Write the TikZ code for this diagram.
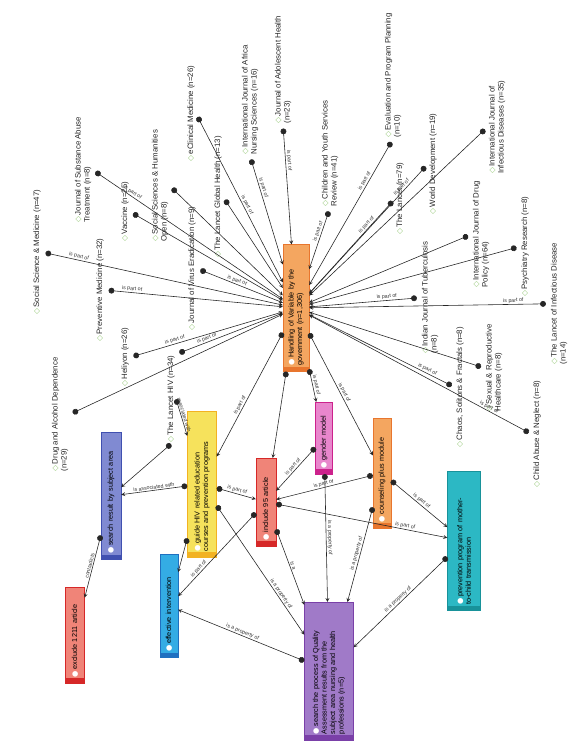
\documentclass[tikz,border=0pt]{standalone}
\usepackage{fontspec}
\setmainfont{Liberation Sans}
\newfontfamily\symfont{DejaVu Sans}
\usetikzlibrary{arrows, calc}

\definecolor{diagreen}{RGB}{150,200,120}
\definecolor{hvorange}{RGB}{244,166,96}
\definecolor{hvdark}{RGB}{232,118,46}
\definecolor{gmpink}{RGB}{232,134,204}
\definecolor{gmdark}{RGB}{204,34,140}
\definecolor{incred}{RGB}{240,132,120}
\definecolor{incdark}{RGB}{214,40,40}
\definecolor{guiyellow}{RGB}{246,226,92}
\definecolor{guidark}{RGB}{242,178,34}
\definecolor{srsblue}{RGB}{128,138,210}
\definecolor{srsdark}{RGB}{64,80,176}
\definecolor{effblue}{RGB}{52,172,228}
\definecolor{effdark}{RGB}{32,112,192}
\definecolor{sqapurple}{RGB}{160,122,200}
\definecolor{sqadark}{RGB}{122,64,168}
\definecolor{pmtteal}{RGB}{44,184,196}
\definecolor{pmtdark}{RGB}{24,146,154}

\newcommand\jd{{\symfont\textcolor{diagreen}{◇}}\,}
\newcommand\bd{{\symfont\textcolor{white}{●}}\,}

\begin{document}
\begin{tikzpicture}[>=stealth, x=0.03cm, y=-0.03cm]
	\tikzstyle{journal} = [rotate=90, anchor=west, inner sep=1pt, align=left, text=black!85, font=\fontsize{6.7}{7.7}\selectfont]
	\tikzstyle{box} = [rotate=90, draw, line width=0.3pt, inner xsep=5pt, inner ysep=1.5pt, align=left, font=\fontsize{6.2}{7.2}\selectfont]
	\tikzstyle{rel} = [*->, line width=0.5pt, black!85]
	\tikzstyle{lbl} = [sloped, above, inner sep=0.8pt, text=black!80, font=\fontsize{4.5}{5}\selectfont]

	\useasboundingbox (0,0) rectangle (582,752);

	% concept boxes
	\node[box, fill=hvorange, draw=hvdark, text width=3.45cm, minimum height=0.78cm] (hv) at (296,308) {\bd Handling of Variable by the\\government (n=1,306)};
	\node[box, fill=gmpink, draw=gmdark, text width=1.8cm, minimum height=0.51cm] (gm) at (324,438) {\bd gender model};
	\node[box, fill=hvorange, draw=hvdark, text width=2.94cm, minimum height=0.54cm] (cpm) at (382,473) {\bd counseling plus module};
	\node[box, fill=incred, draw=incdark, text width=2.28cm, minimum height=0.6cm] (inc) at (266,502) {\bd include 95 article};
	\node[box, fill=guiyellow, draw=guidark, text width=4.02cm, minimum height=0.87cm] (gui) at (202,484) {\bd guide HIV related education\\courses and prevention programs};
	\node[box, fill=srsblue, draw=srsdark, text width=3.45cm, minimum height=0.6cm] (srs) at (111,496) {\bd search result by subject area};
	\node[box, fill=effblue, draw=effdark, text width=2.73cm, minimum height=0.54cm] (eff) at (169,606) {\bd effective intervention};
	\node[box, fill=incred, draw=incdark, text width=2.52cm, minimum height=0.57cm] (exc) at (75,635) {\bd exclude 1211 article};
	\node[box, fill=sqapurple, draw=sqadark, text width=3.78cm, minimum height=1.47cm] (sqa) at (329,671) {\bd search the process of Quality\\Assessment results from the\\subject area nursing and health\\professions (n=5)};
	\node[box, fill=pmtteal, draw=pmtdark, text width=3.81cm, minimum height=0.99cm] (pmt) at (464,541) {\bd prevention program of mother-\\to-child transmission};

	\foreach \n/\c in {hv/hvdark, gm/gmdark, cpm/hvdark, inc/incdark, gui/guidark, srs/srsdark, eff/effdark, exc/incdark, sqa/sqadark, pmt/pmtdark}
		\fill[\c] (\n.south west) rectangle ($(\n.north west)+(0,-5)$);

	% journals
	\node[journal] (soc) at (37,316) {\jd Social Science \& Medicine (n=47)};
	\node[journal] (jsat) at (83,224) {\jd Journal of Substance Abuse\\Treatment (n=8)};
	\node[journal] (prev) at (100,343) {\jd Preventive Medicine (n=32)};
	\node[journal] (vacc) at (125,243) {\jd Vaccine (n=25)};
	\node[journal] (ssho) at (160,243) {\jd Social Sciences \& Humanities\\Open (n=8)};
	\node[journal] (jve) at (192,332) {\jd Journal of Virus Eradication (n=9)};
	\node[journal] (ecm) at (191,163) {\jd eClinical Medicine (n=26)};
	\node[journal] (lgh) at (218,259) {\jd The Lancet Global Health (n=13)};
	\node[journal] (ijans) at (250,156) {\jd International Journal of Africa\\Nursing Sciences (n=16)};
	\node[journal] (jah) at (283,125) {\jd Journal of Adolescent Health\\(n=23)};
	\node[journal] (cysr) at (330,208) {\jd Children and Youth Services\\Review (n=41)};
	\node[journal] (epp) at (393,139) {\jd Evaluation and Program Planning\\(n=10)};
	\node[journal] (lancet) at (400,236) {\jd The Lancet (n=79)};
	\node[journal] (wd) at (433,216) {\jd World Development (n=19)};
	\node[journal] (ijid) at (497,175) {\jd International Journal of\\Infectious Diseases (n=35)};
	\node[journal] (ijdp) at (481,289) {\jd International Journal of Drug\\Policy (n=64)};
	\node[journal] (psy) at (525,298) {\jd Psychiatry Research (n=8)};
	\node[journal] (ijt) at (430,355) {\jd Indian Journal of Tuberculosis\\(n=8)};
	\node[journal] (lid) at (559,366) {\jd The Lancet of Infectious Disease\\(n=14)};
	\node[journal] (csf) at (460,449) {\jd Chaos, Solitons \& Fractals (n=8)};
	\node[journal] (srh) at (494,413) {\jd Sexual \& Reproductive\\Healthcare (n=8)};
	\node[journal] (can) at (537,489) {\jd Child Abuse \& Neglect (n=8)};
	\node[journal] (lhiv) at (171,444) {\jd The Lancet HIV (n=34)};
	\node[journal] (hel) at (125,388) {\jd Heliyon (n=26)};
	\node[journal] (dad) at (60,473) {\jd Drug and Alcohol Dependence\\(n=29)};

	% journals to the central box
	\path[rel, shorten <=3pt]
		(soc.south) edge node[lbl, pos=0.15] {is part of} (hv)
		(jsat.south) edge node[lbl, pos=0.2] {is part of} (hv)
		(prev.south) edge node[lbl, pos=0.15] {is part of} (hv)
		(vacc.south) edge (hv)
		(ssho.south) edge (hv)
		(jve.south) edge node[lbl, pos=0.45] {is part of} (hv)
		(ecm.south) edge node[lbl, pos=0.55] {is part of} (hv)
		(lgh.south) edge (hv)
		(ijans.west) edge node[lbl, pos=0.3] {is part of} (hv)
		(jah.west) edge node[lbl, pos=0.3] {is part of} (hv)
		(cysr.west) edge node[lbl, pos=0.4] {is part of} (hv)
		(epp.west) edge node[lbl, pos=0.3] {is part of} (hv)
		(lancet.north) edge node[lbl, pos=0.3] {is part of} (hv)
		(wd.north) edge node[lbl, pos=0.2] {is part of} (hv)
		(ijid.north) edge (hv)
		(ijdp.north) edge (hv)
		(psy.north) edge (hv)
		(ijt.north) edge node[lbl, pos=0.3] {is part of} (hv)
		(lid.north) edge node[lbl, pos=0.15] {is part of} (hv)
		(csf.north) edge node[lbl, pos=0.2] {is part of} (hv)
		(srh.north) edge (hv)
		(can.north) edge node[lbl, pos=0.2] {is part of} (hv)
		(lhiv.south east) edge node[lbl, pos=0.3] {is part of} (hv)
		(hel.south) edge node[lbl, pos=0.3] {is part of} (hv)
		(dad.south) edge (hv)
	;

	% relations between the concept boxes
	\path[rel]
		(hv) edge node[lbl] {is part of} (gm)
		(hv) edge node[lbl] {is part of} (cpm)
		(hv) edge node[lbl, pos=0.6] {is part of} (gui)
		(hv) edge (inc)
		(lhiv.south) edge node[lbl, pos=0.45] {associated with} (gui)
		(lhiv.west) edge (srs)
		(gui) edge node[lbl] {is associated with} (srs)
		(srs) edge node[lbl] {contradicts} (exc)
		(gui) edge node[lbl] {is part of} (inc)
		(inc) edge node[lbl, pos=0.7] {is part of} (eff)
		(gui) edge (eff)
		(sqa) edge node[lbl] {is a property of} (eff)
		(gui) edge node[lbl, pos=0.7] {is a property of} (sqa)
		(inc) edge node[lbl] {is a} (sqa)
		(gm) edge node[lbl] {is part of} (inc)
		(cpm) edge node[lbl] {is part of} (inc)
		(inc) edge node[lbl, pos=0.75] {is part of} (pmt)
		(cpm) edge node[lbl] {is part of} (pmt)
		(gm) edge node[lbl] {is a property of} (sqa)
		(cpm) edge node[lbl] {is a property of} (sqa)
		(pmt) edge node[lbl] {is a property of} (sqa)
	;
\end{tikzpicture}
\end{document}
